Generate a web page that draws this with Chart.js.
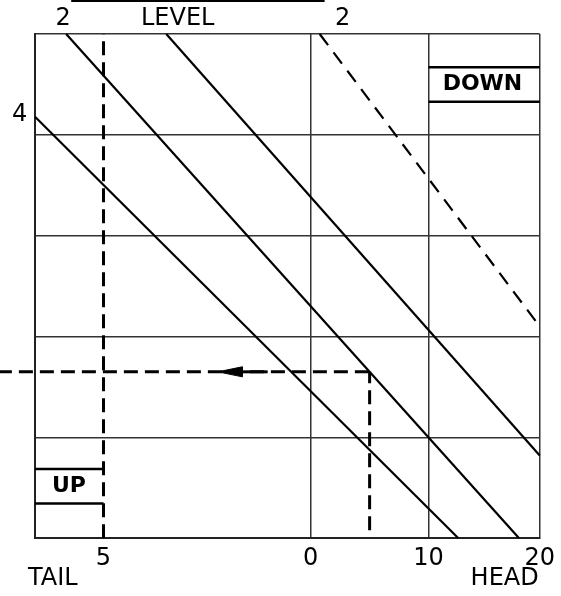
<!DOCTYPE html>
<html>
<head>
<meta charset="utf-8">
<script src="https://cdn.jsdelivr.net/npm/chart.js@4.4.1/dist/chart.umd.min.js"></script>
<style>
  html, body { margin: 0; padding: 0; background: #fff; }
  #wrap { width: 561px; height: 596px; }
</style>
</head>
<body>
<div id="wrap"><canvas id="chart"></canvas></div>
<script>
// Chart units: x = wind (head side in knots, tail side compressed), y = grid rows 0..5
const xMin = -24.06, xMax = 20;
const yMin = 0, yMax = 5;
const xTickVals   = [-18.08, 0, 10.3, 20];
const xTickLabels = ['5', '0', '10', '20'];

// guide lines (2 % down, level, 2 % up ...)
const lineA = [{x: -24.06, y: 4.18}, {x: 12.9, y: 0}];
const lineB = [{x: -21.34, y: 5},    {x: 18.2, y: 0}];
const lineC = [{x: -12.6,  y: 5},    {x: 20,   y: 0.82}];
const lineD = [{x: 0.79,   y: 5},    {x: 20,   y: 2.1}];

// example path
const tailRef  = [{x: -18.08, y: 0}, {x: -18.08, y: 5}];
const headRef  = [{x: 5.15, y: 0.08}, {x: 5.15, y: 1.65}];
const readOut  = [{x: -27.3, y: 1.65}, {x: 5.15, y: 1.65}];
const arrowShaft = [{x: -5.95, y: 1.65}, {x: -3.75, y: 1.65}];
const arrowHead  = [{x: -5.95, y: 1.7}, {x: -8.1, y: 1.65}, {x: -5.95, y: 1.6}, {x: -5.95, y: 1.7}];

// boxes and bar
const upTop    = [{x: -24.06, y: 0.685}, {x: -18.08, y: 0.685}];
const upBot    = [{x: -24.06, y: 0.345}, {x: -18.08, y: 0.345}];
const downTop  = [{x: 10.3, y: 4.67},  {x: 20, y: 4.67}];
const downBot  = [{x: 10.3, y: 4.327}, {x: 20, y: 4.327}];
const levelBar = [{x: -20.9, y: 5.33}, {x: 1.22, y: 5.33}];

// text annotations (data units)
const textLabels = [
  {text: '2',     x: -21.6, y: 5.15,  bold: false},
  {text: 'LEVEL', x: -11.6, y: 5.15,  bold: false},
  {text: '2',     x: 2.8,   y: 5.15,  bold: false},
  {text: '4',     x: -25.4, y: 4.2,   bold: false},
  {text: 'TAIL',  x: -22.5, y: -0.4,  bold: false},
  {text: 'HEAD',  x: 16.94, y: -0.4,  bold: false},
  {text: 'UP',    x: -21.1, y: 0.51,  bold: true},
  {text: 'DOWN',  x: 15.0,  y: 4.5,   bold: true}
];

const FONT = "'DejaVu Sans', sans-serif";

function seg(data, width, dash, order, extra) {
  return Object.assign({
    data, borderColor: '#000', borderWidth: width, borderDash: dash || [],
    showLine: true, pointRadius: 0, fill: false, clip: false, order
  }, extra || {});
}

const textPlugin = {
  id: 'texts',
  afterDatasetsDraw(chart) {
    const {ctx, scales: {x, y}} = chart;
    ctx.save();
    ctx.fillStyle = '#000';
    ctx.textAlign = 'center';
    ctx.textBaseline = 'middle';
    textLabels.forEach(t => {
      ctx.font = (t.bold ? 'bold 22px ' : '24px ') + FONT;
      ctx.fillText(t.text, x.getPixelForValue(t.x), y.getPixelForValue(t.y));
    });
    ctx.restore();
  }
};

new Chart(document.getElementById('chart'), {
  type: 'scatter',
  data: {
    datasets: [
      seg(lineA, 2.2, null, 5),
      seg(lineB, 2.2, null, 5),
      seg(lineC, 2.2, null, 5),
      seg(lineD, 2.2, [14, 9], 5),
      seg(tailRef, 3, [14, 7], 4),
      seg(headRef, 3, [14, 7], 4),
      seg(readOut, 3, [14, 7], 4),
      seg(arrowShaft, 3, null, 2),
      seg(arrowHead, 1, null, 1, {fill: 'shape', backgroundColor: '#000'}),
      seg(upTop, 2.5, null, 3),
      seg(upBot, 2.5, null, 3),
      seg(downTop, 2.5, null, 3),
      seg(downBot, 2.5, null, 3),
      seg(levelBar, 2.5, null, 3)
    ]
  },
  options: {
    responsive: true,
    maintainAspectRatio: false,
    animation: false,
    layout: { padding: { left: 35, right: 21, top: 34, bottom: 17 } },
    plugins: { legend: { display: false }, tooltip: { enabled: false } },
    scales: {
      x: {
        type: 'linear', min: xMin, max: xMax,
        afterBuildTicks: s => { s.ticks = xTickVals.map(v => ({value: v})); },
        ticks: {
          autoSkip: false, maxRotation: 0, padding: 6, color: '#000',
          font: { family: FONT, size: 24 },
          callback: (v, i) => xTickLabels[i]
        },
        grid: {
          drawTicks: false, lineWidth: 1.5,
          color: c => (c.tick && c.tick.value === xTickVals[0]) ? 'rgba(0,0,0,0)' : '#333'
        },
        border: { color: '#222', width: 2 }
      },
      y: {
        type: 'linear', min: yMin, max: yMax,
        ticks: { display: false, stepSize: 1 },
        grid: { drawTicks: false, lineWidth: 1.5, color: '#333' },
        border: { color: '#222', width: 2 }
      }
    }
  },
  plugins: [textPlugin]
});
</script>
</body>
</html>
